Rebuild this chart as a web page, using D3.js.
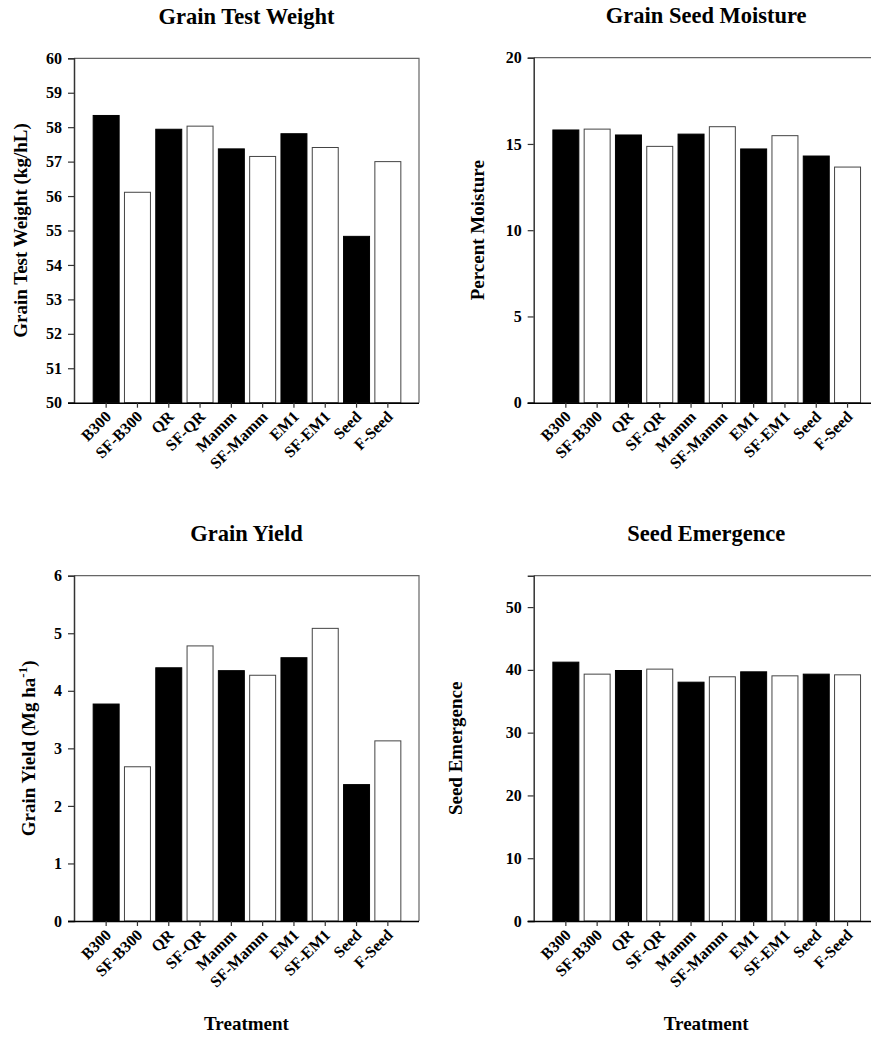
<!DOCTYPE html>
<html>
<head>
<meta charset="utf-8">
<script src="https://cdn.jsdelivr.net/npm/d3@7"></script>
<style>
  html, body { margin: 0; padding: 0; background: #fff; }
  svg text { font-family: "Liberation Serif", "Times New Roman", serif; font-weight: bold; fill: #000; }
</style>
</head>
<body>
<svg id="chart" width="871" height="1037"></svg>
<script>
// Treatments shown on every panel's x axis
const treatments = ["B300", "SF-B300", "QR", "SF-QR", "Mamm", "SF-Mamm", "EM1", "SF-EM1", "Seed", "F-Seed"];
// Solid bars for the base treatments, open bars for the seed-applied / foliar versions
const barFills = ["#000", "#fff", "#000", "#fff", "#000", "#fff", "#000", "#fff", "#000", "#fff"];

const testWeight = [58.34, 56.11, 57.94, 58.03, 57.37, 57.15, 57.81, 57.41, 54.83, 57.0];
const moisture   = [15.81, 15.86, 15.52, 14.86, 15.57, 16.0, 14.71, 15.48, 14.30, 13.66];
const grainYield = [3.77, 2.68, 4.40, 4.78, 4.35, 4.27, 4.575, 5.085, 2.37, 3.13];
const emergence  = [41.23, 39.32, 39.90, 40.12, 38.04, 38.90, 39.69, 39.05, 39.32, 39.21];

const testWeightTicks = [50, 51, 52, 53, 54, 55, 56, 57, 58, 59, 60];
const moistureTicks   = [0, 5, 10, 15, 20];
const yieldTicks      = [0, 1, 2, 3, 4, 5, 6];
const emergenceTicks  = [0, 10, 20, 30, 40, 50];

const svg = d3.select("#chart");

const panels = [
  { title: "Grain Test Weight", ylabel: "Grain Test Weight (kg/hL)", values: testWeight,
    domain: [50, 60], ticks: testWeightTicks, x0: 74, y0: 58.3, y1: 402.7, labelX: 20, showX: false },
  { title: "Grain Seed Moisture", ylabel: "Percent Moisture", values: moisture,
    domain: [0, 20], ticks: moistureTicks, x0: 533.7, y0: 57.7, y1: 402.7, labelX: 477.5, showX: false },
  { title: "Grain Yield", ylabel: null, values: grainYield,
    domain: [0, 6], ticks: yieldTicks, x0: 74, y0: 575.7, y1: 921, labelX: 28, showX: true },
  { title: "Seed Emergence", ylabel: "Seed Emergence", values: emergence,
    domain: [0, 55], ticks: emergenceTicks, x0: 533.7, y0: 575.7, y1: 921, labelX: 455.5, showX: true }
];

const plotW = 345;

panels.forEach(p => {
  const g = svg.append("g");
  const x1 = p.x0 + plotW;

  const x = d3.scaleBand()
    .domain(treatments)
    .range([p.x0 + 16.5, x1 - 15.5])
    .paddingInner(0.17)
    .paddingOuter(0.085);

  const y = d3.scaleLinear().domain(p.domain).range([p.y1, p.y0]);

  // frame (top and right)
  g.append("path")
    .attr("d", `M${p.x0},${p.y0}H${x1}V${p.y1}`)
    .attr("fill", "none").attr("stroke", "#666").attr("stroke-width", 1.2);

  // bars
  g.selectAll("rect.bar")
    .data(p.values)
    .join("rect")
    .attr("class", "bar")
    .attr("x", (d, i) => x(treatments[i]))
    .attr("width", x.bandwidth())
    .attr("y", d => y(d))
    .attr("height", d => y(p.domain[0]) - y(d))
    .attr("fill", (d, i) => barFills[i])
    .attr("stroke", (d, i) => barFills[i] === "#000" ? "#000" : "#444")
    .attr("stroke-width", 1);

  // y axis
  const yAxis = g.append("g")
    .attr("transform", `translate(${p.x0},0)`)
    .call(d3.axisLeft(y).tickValues(p.ticks).tickSize(6).tickPadding(6).tickFormat(d3.format("d")));
  yAxis.select(".domain").attr("stroke", "#333").attr("stroke-width", 1.5);
  yAxis.selectAll(".tick line").attr("stroke", "#333").attr("stroke-width", 1.2);
  yAxis.selectAll(".tick text").style("font-size", "16px").attr("font-family", null);

  // x axis
  const xAxis = g.append("g")
    .attr("transform", `translate(0,${p.y1})`)
    .call(d3.axisBottom(x).tickSize(5).tickSizeOuter(0));
  xAxis.select(".domain").attr("d", `M${p.x0 - 6},0.5H${x1}`)
    .attr("stroke", "#000").attr("stroke-width", 1.5);
  xAxis.selectAll(".tick line").attr("stroke", "#333").attr("stroke-width", 1.2);
  xAxis.selectAll(".tick text")
    .style("font-size", "16px")
    .attr("font-family", null)
    .attr("text-anchor", "end")
    .attr("dy", null)
    .attr("y", 0)
    .attr("transform", "translate(6,15) rotate(-45)");

  // panel title
  g.append("text")
    .attr("x", p.x0 + plotW / 2)
    .attr("y", p.y0 - 34.5)
    .attr("text-anchor", "middle")
    .style("font-size", "22.5px")
    .text(p.title);

  // y axis label
  const cy = (p.y0 + p.y1) / 2;
  const yl = g.append("text")
    .attr("transform", `translate(${p.labelX + 6.5},${cy}) rotate(-90)`)
    .attr("text-anchor", "middle")
    .style("font-size", "19px");
  if (p.ylabel) {
    yl.text(p.ylabel);
  } else {
    yl.append("tspan").text("Grain Yield (Mg ha");
    yl.append("tspan").attr("dy", -8).style("font-size", "13px").text("-1");
    yl.append("tspan").attr("dy", 8).text(")");
  }

  // x axis title
  if (p.showX) {
    g.append("text")
      .attr("x", p.x0 + plotW / 2)
      .attr("y", 1030)
      .attr("text-anchor", "middle")
      .style("font-size", "19px")
      .text("Treatment");
  }
});
</script>
</body>
</html>
